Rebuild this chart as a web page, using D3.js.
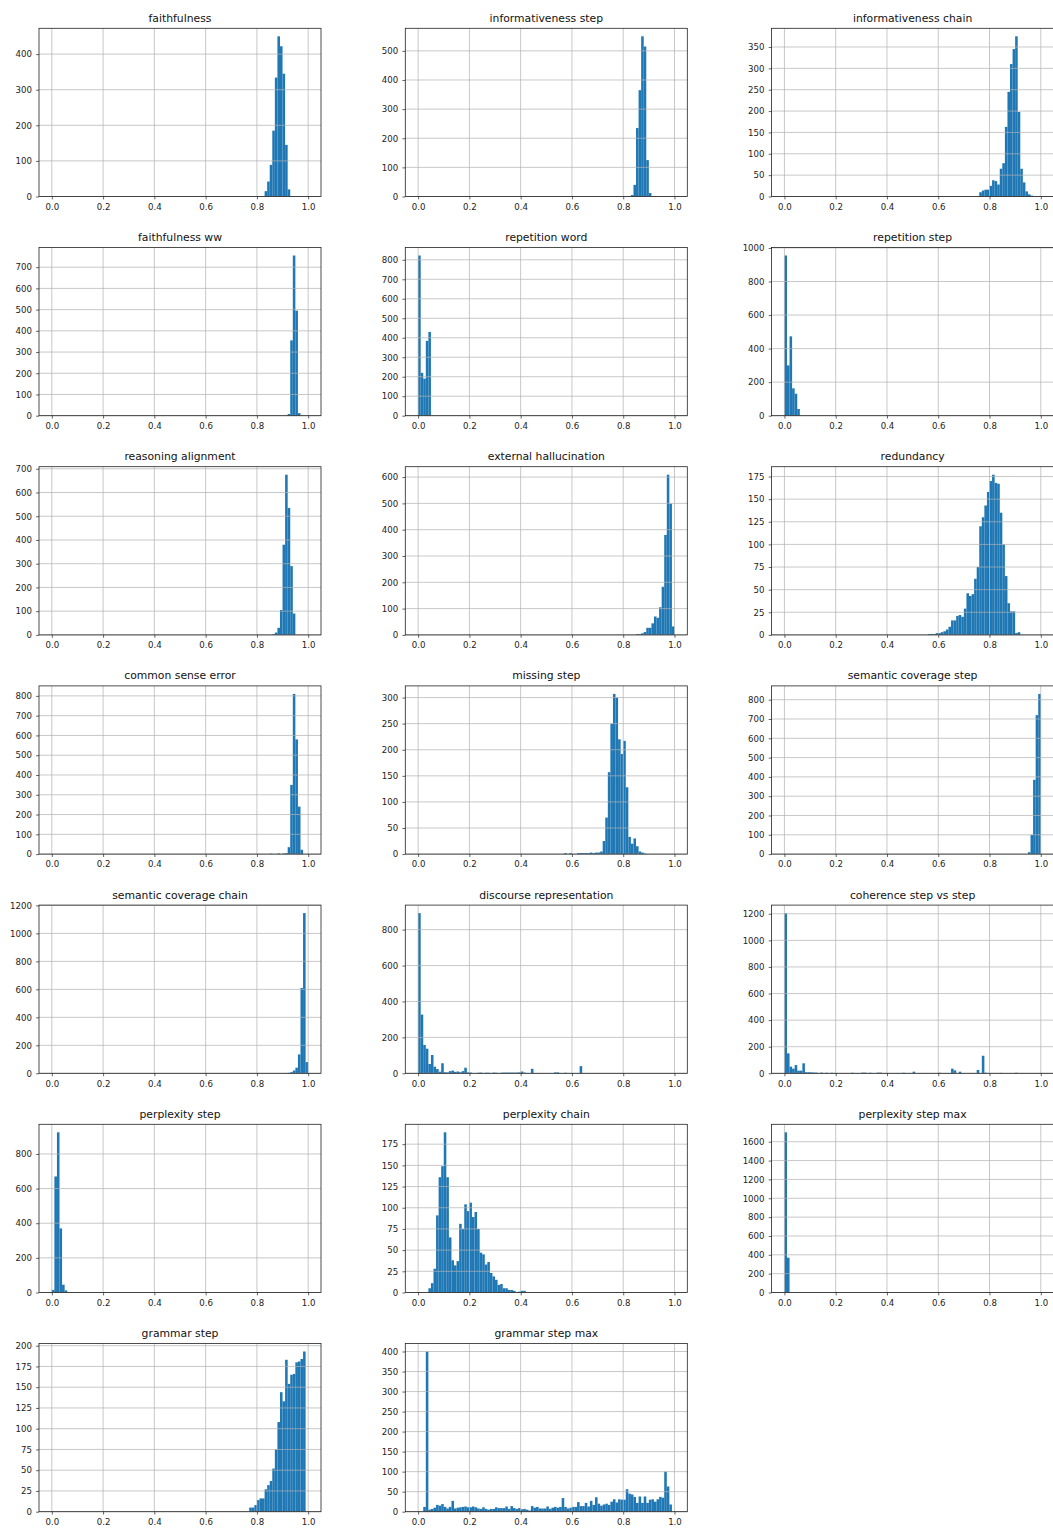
<!DOCTYPE html>
<html><head><meta charset="utf-8">
<script src="https://cdn.jsdelivr.net/npm/d3@7"></script>
<style>body{margin:0;background:#fff} text{font-family:"DejaVu Sans",sans-serif}</style>
</head><body><svg id="c" width="1053" height="1532"></svg>
<script>
// Panel titles (row-major, 3 per row)
const titles = ["faithfulness","informativeness step","informativeness chain",
  "faithfulness ww","repetition word","repetition step",
  "reasoning alignment","external hallucination","redundancy",
  "common sense error","missing step","semantic coverage step",
  "semantic coverage chain","discourse representation","coherence step vs step",
  "perplexity step","perplexity chain","perplexity step max",
  "grammar step","grammar step max"];

// Histogram counts: 100 bins of width 0.01 on [0,1]; each array starts at bin index binStarts[i]
const faithfulness = [15,42,89,185,334,450,422,345,145,20];
const informativenessStep = [5,40,235,365,550,515,125,12];
const informativenessChain = [10,14,16,16,25,38,36,28,65,78,163,245,310,345,375,198,65,33,12,5,2];
const faithfulnessWw = [8,355,755,495,12];
const repetitionWord = [822,220,190,384,430];
const repetitionStep = [955,300,473,163,131,40];
const reasoningAlignment = [3,10,30,105,380,675,535,290,90];
const externalHallucination = [3,3,6,11,27,27,44,70,65,105,183,380,609,499,32];
const redundancy = [1,1,1,2,2,3,4,6,9,16,16,21,22,20,29,46,43,45,62,75,120,130,143,158,170,177,168,167,135,100,65,35,26,26,2,3];
const commonSenseError = [2,0,0,3,0,3,5,35,350,810,580,240,22];
const missingStep = [2,0,2,0,0,2,2,2,2,2,3,2,3,3,5,25,70,157,250,307,300,220,192,217,128,33,20,30,15,5,3,1];
const semanticCoverageStep = [10,100,385,720,830];
const semanticCoverageChain = [3,8,20,40,135,610,1145,80];
const discourseRepresentation = [892,327,158,137,52,102,37,24,9,56,
  6,5,12,15,8,10,6,12,31,5,
  4,0,0,3,4,0,3,3,0,4,
  3,0,3,4,4,4,4,4,4,5,
  10,4,0,0,25,0,0,0,0,0,
  0,0,0,5,5,0,0,3,0,0,
  0,0,0,40];
const coherenceStepVsStep = [1205,150,50,35,62,20,20,75,8,8,
  7,6,5,0,5,0,4,0,4,0,
  0,0,0,0,0,0,4,0,0,0,
  5,5,0,4,0,0,5,5,0,0,
  0,0,0,0,0,0,4,0,0,0,
  12,0,0,0,0,0,0,0,0,0,
  4,0,0,0,0,35,22,0,12,0,
  0,0,0,0,0,25,0,132,4,0,
  0,0,0,0,3,0,0,0,0,0,
  4];
const perplexityStep = [15,670,925,370,45,12];
const perplexityChain = [5,11,28,91,136,149,189,136,65,38,32,37,81,75,104,96,106,89,95,75,47,45,33,36,23,19,15,9,10,5,5,3,3,2,0,1,2,2];
const perplexityStepMax = [1700,370];
const grammarStep = [5,5,8,14,16,16,27,32,37,52,75,108,144,133,183,154,165,166,180,181,184,193];
const grammarStepMax = [12,400,5,7,10,17,15,19,
  12,8,12,27,8,10,11,12,13,11,
  11,13,11,8,7,11,7,5,7,7,
  11,9,9,9,13,7,14,9,7,9,
  6,7,5,3,14,10,12,8,8,8,
  13,7,10,12,10,12,34,12,8,10,
  12,12,24,14,14,22,13,27,17,36,
  20,15,18,20,17,25,31,23,31,30,
  30,56,45,43,37,22,38,22,38,22,
  30,31,25,31,37,35,100,63,18];

const binStarts = [83,83,76, 92,0,0, 86,85,56, 85,57,95, 92,0,0, 0,4,0, 77,2];
const series = [faithfulness, informativenessStep, informativenessChain,
  faithfulnessWw, repetitionWord, repetitionStep,
  reasoningAlignment, externalHallucination, redundancy,
  commonSenseError, missingStep, semanticCoverageStep,
  semanticCoverageChain, discourseRepresentation, coherenceStepVsStep,
  perplexityStep, perplexityChain, perplexityStepMax,
  grammarStep, grammarStepMax];

// y tick spacing per panel, x tick values
const yTickSteps = [100,100,50, 100,100,200, 100,100,25, 100,50,100, 200,200,200, 200,25,200, 25,50];
const xTicks = [0,0.2,0.4,0.6,0.8,1.0];
const binWidth = 0.01;

const svg = d3.select("#c");
const colLeft = [39, 405.3, 771.6], rowTop0 = 28.3, rowStep = 219.2, W = 282, H = 168.2;
const tickFont = 8.6, titleFont = 10.8;

series.forEach((counts, i) => {
  const r = Math.floor(i / 3), c = i % 3;
  const g = svg.append("g").attr("transform", `translate(${colLeft[c]},${rowTop0 + r * rowStep})`);
  const x = d3.scaleLinear().domain([-0.05, 1.05]).range([0, W]);
  const maxV = d3.max(counts);
  const y = d3.scaleLinear().domain([0, maxV * 1.05]).range([H, 0]);
  const yt = d3.range(0, maxV * 1.05 + 1e-9, yTickSteps[i]);
  const bins = counts.map((v, k) => ({x0: (binStarts[i] + k) * binWidth, v}));

  g.append("g").selectAll("rect").data(bins.filter(d => d.v > 0)).join("rect")
    .attr("x", d => x(d.x0))
    .attr("width", d => x(d.x0 + binWidth) - x(d.x0))
    .attr("y", d => y(d.v))
    .attr("height", d => H - y(d.v))
    .attr("fill", "#1f77b4");

  // grid (drawn above bars like matplotlib)
  const grid = g.append("g").attr("stroke", "#b0b0b0").attr("stroke-width", 0.7);
  grid.selectAll("line.gx").data(xTicks).join("line").attr("class", "gx")
    .attr("x1", d => x(d)).attr("x2", d => x(d)).attr("y1", 0).attr("y2", H);
  grid.selectAll("line.gy").data(yt).join("line").attr("class", "gy")
    .attr("x1", 0).attr("x2", W).attr("y1", d => y(d)).attr("y2", d => y(d));

  // axes
  const xa = g.append("g").attr("transform", `translate(0,${H})`)
    .call(d3.axisBottom(x).tickValues(xTicks).tickFormat(d3.format(".1f")).tickSize(2.9).tickPadding(4.2));
  const ya = g.append("g")
    .call(d3.axisLeft(y).tickValues(yt).tickFormat(d3.format("d")).tickSize(2.9).tickPadding(4.2));
  [xa, ya].forEach(a => {
    a.select(".domain").remove();
    a.selectAll(".tick line").attr("stroke", "#222").attr("stroke-width", 0.7);
    a.selectAll(".tick text").attr("fill", "#222").style("font-size", tickFont + "px")
      .style("font-family", "DejaVu Sans");
  });

  // spines
  g.append("rect").attr("x", 0).attr("y", 0).attr("width", W).attr("height", H)
    .attr("fill", "none").attr("stroke", "#222").attr("stroke-width", 0.8);

  g.append("text").attr("x", W / 2).attr("y", -6.6).attr("text-anchor", "middle")
    .style("font-size", titleFont + "px").attr("fill", "#111").text(titles[i]);
});
</script></body></html>
